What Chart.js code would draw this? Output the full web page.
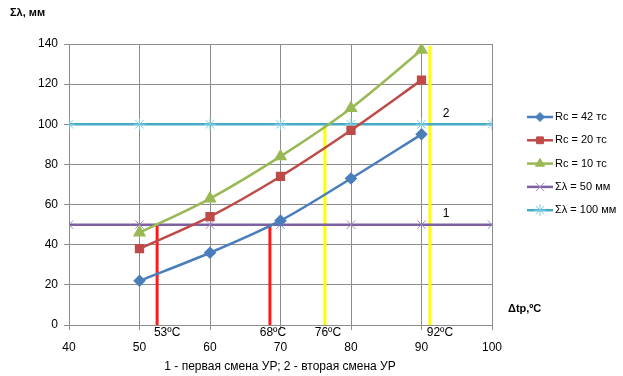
<!DOCTYPE html>
<html>
<head>
<meta charset="utf-8">
<script src="https://cdn.jsdelivr.net/npm/chart.js@4.4.1/dist/chart.umd.min.js"></script>
<style>
  html, body { margin: 0; padding: 0; background: #fff; }
  #wrap { width: 623px; height: 376px; position: relative; }
</style>
</head>
<body>
<div id="wrap"><canvas id="myChart" width="623" height="376"></canvas></div>
<script>
// data
var temps = [50, 60, 70, 80, 90];
var rc42 = [22, 36, 52, 73, 95];
var rc20 = [38, 54, 74, 97, 122];
var rc10 = [46, 63, 84, 108, 137];
var levelX = [40, 50, 60, 70, 80, 90, 100];
var level50 = [50, 50, 50, 50, 50, 50, 50];
var level100 = [100, 100, 100, 100, 100, 100, 100];
// vertical marker lines: x position, top value, label
var markX = [52.5, 68.5, 76.3, 91.2];
var markTop = [50, 50, 100, 139];
var markText = ['53ºC', '68ºC', '76ºC', '92ºC'];
var markColor = ['#ff1a1a', '#ff1a1a', '#ffff00', '#ffff00'];
var xTicks = [40, 50, 60, 70, 80, 90, 100];
var yTicks = [0, 20, 40, 60, 80, 100, 120, 140];

var FONT = '"Liberation Sans", Arial, sans-serif';

function pts(xs, ys) {
    var out = [];
    for (var i = 0; i < xs.length; i++) out.push({x: xs[i], y: ys[i]});
    return out;
}

var datasets = [
    {label: 'Rc = 42 тс', data: pts(temps, rc42), borderColor: '#4a7ebb', backgroundColor: '#4a7ebb',
     pointStyle: 'rectRot', pointRadius: 4.5, tension: 0.3},
    {label: 'Rc = 20 тс', data: pts(temps, rc20), borderColor: '#be4b48', backgroundColor: '#be4b48',
     pointStyle: 'rect', pointRadius: 4.8, tension: 0.3},
    {label: 'Rc = 10 тс', data: pts(temps, rc10), borderColor: '#98b954', backgroundColor: '#98b954',
     pointStyle: 'triangle', pointRadius: 5.2, tension: 0.3},
    {label: 'Σλ = 50 мм', data: pts(levelX, level50), borderColor: '#7d60a0', backgroundColor: '#7d60a0',
     pointBorderColor: '#a08cc0', pointStyle: 'crossRot', pointRadius: 6, pointBorderWidth: 1, tension: 0},
    {label: 'Σλ = 100 мм', data: pts(levelX, level100), borderColor: '#46aac5', backgroundColor: '#46aac5',
     pointBorderColor: '#7ccde0', pointStyle: 'star', pointRadius: 6, pointBorderWidth: 1, tension: 0}
];
datasets.forEach(function(d){ d.borderWidth = 2.5; d.legendItem = true; });

for (var i = 0; i < markX.length; i++) {
    datasets.push({label: markText[i], data: [{x: markX[i], y: 0}, {x: markX[i], y: markTop[i]}],
        borderColor: markColor[i], borderWidth: 3, pointRadius: 0, tension: 0, legendItem: false});
}

var extras = {
    id: 'extras',
    afterDraw: function(chart) {
        var c = chart.ctx, xs = chart.scales.x, ys = chart.scales.y;
        c.save();
        c.fillStyle = '#000';
        c.textBaseline = 'middle';
        // labels under the vertical lines
        c.font = '12px ' + FONT;
        c.textAlign = 'center';
        var shift = [10, 3, 3, 10];
        for (var i = 0; i < markX.length; i++) {
            c.fillText(markText[i], xs.getPixelForValue(markX[i]) + shift[i], 333);
        }
        // line numbers
        c.font = '12px ' + FONT;
        c.fillText('1', xs.getPixelForValue(93.5), ys.getPixelForValue(55.5));
        c.fillText('2', xs.getPixelForValue(93.5), ys.getPixelForValue(105.5));
        // axis titles
        c.font = 'bold 11px ' + FONT;
        c.textAlign = 'left';
        c.fillText('Σλ, мм', 10, 13);
        c.fillText('Δtр,ºC', 508, 309);
        c.font = '12px ' + FONT;
        c.textAlign = 'center';
        c.fillText('1 - первая смена УР; 2 - вторая смена УР', 280, 367);
        // legend
        c.font = '11px ' + FONT;
        c.textAlign = 'left';
        var ly = 117;
        chart.data.datasets.forEach(function(d) {
            if (!d.legendItem) return;
            c.strokeStyle = d.borderColor;
            c.lineWidth = 2.5;
            c.beginPath(); c.moveTo(527, ly); c.lineTo(553, ly); c.stroke();
            c.fillStyle = d.pointBorderColor || d.backgroundColor;
            c.strokeStyle = d.pointBorderColor || d.borderColor;
            c.lineWidth = d.pointBorderWidth || 1;
            Chart.helpers.drawPoint(c, {
                pointStyle: d.pointStyle, radius: d.pointRadius, rotation: 0,
                borderWidth: d.pointBorderWidth || 1
            }, 540, ly);
            c.fillStyle = '#000';
            c.fillText(d.label, 555, ly);
            ly += 23.3;
        });
        c.restore();
    }
};

var myChart = new Chart('myChart', {
    type: 'line',
    data: {datasets: datasets},
    options: {
        responsive: false,
        animation: false,
        layout: {padding: {left: 0, right: 131, top: 44, bottom: 0}},
        plugins: {legend: {display: false}, tooltip: {enabled: false}},
        scales: {
            x: {
                type: 'linear', min: 40, max: 100,
                afterBuildTicks: function(s) { s.ticks = xTicks.map(function(v){ return {value: v}; }); },
                afterFit: function(s) { s.height = 51; },
                grid: {color: '#8c8c8c', lineWidth: 1, tickLength: 5, drawTicks: true},
                border: {color: '#8c8c8c'},
                ticks: {color: '#000', font: {family: FONT, size: 12}, padding: 10, maxRotation: 0}
            },
            y: {
                min: 0, max: 140,
                afterBuildTicks: function(s) { s.ticks = yTicks.map(function(v){ return {value: v}; }); },
                afterFit: function(s) { s.width = 69; },
                grid: {color: '#8c8c8c', lineWidth: 1, tickLength: 5},
                border: {color: '#8c8c8c'},
                ticks: {color: '#000', font: {family: FONT, size: 12}, padding: 6}
            }
        }
    },
    plugins: [extras]
});
</script>
</body>
</html>
